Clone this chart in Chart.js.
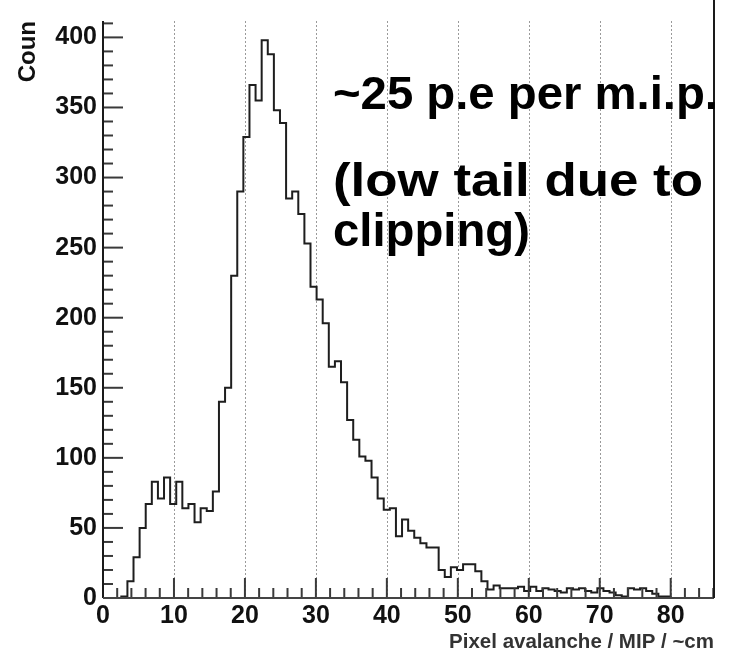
<!DOCTYPE html>
<html>
<head>
<meta charset="utf-8">
<script src="https://cdn.jsdelivr.net/npm/chart.js@4.4.0/dist/chart.umd.min.js"></script>
<style>
  html, body { margin: 0; padding: 0; background: #fff; }
  #wrap { width: 736px; height: 657px; }
</style>
</head>
<body>
<div id="wrap"><canvas id="hist" width="736" height="657"></canvas></div>
<script>
// 100 bins, 0.86 wide, starting at 0
const binStart = 0;
const binWidth = 0.86;
const counts = [
  0, 0, 0, 1, 12, 29, 50, 67, 83, 71,
  86, 67, 83, 64, 67, 54, 64, 62, 76, 140,
  150, 230, 290, 329, 366, 355, 398, 388, 348, 339,
  285, 290, 274, 253, 222, 213, 196, 165, 169, 154,
  127, 113, 101, 98, 86, 71, 63, 64, 44, 56,
  48, 43, 39, 36, 36, 20, 15, 22, 20, 24,
  24, 19, 12, 6, 9, 7, 7, 7, 8, 5,
  8, 5, 7, 6, 5, 4, 7, 6, 7, 5,
  4, 7, 5, 4, 2, 1, 7, 6, 7, 5,
  3, 1, 1, 0, 0, 0, 0, 0, 0, 0
];
const xTicks = [0, 10, 20, 30, 40, 50, 60, 70, 80];
const yTicks = [0, 50, 100, 150, 200, 250, 300, 350, 400];
const xTitle = 'Pixel avalanche / MIP / ~cm';
const yTitle = 'Coun';
const notes = ['~25 p.e per m.i.p.', '(low tail due to', 'clipping)'];

const FONT = '"Liberation Sans", Arial, Helvetica, sans-serif';

// points at left bin edges + one closing point at the last right edge
const points = counts.map((c, i) => ({ x: binStart + i * binWidth, y: c }));
points.push({ x: binStart + counts.length * binWidth, y: counts[counts.length - 1] });

const frame = {
  id: 'frame',
  beforeDatasetsDraw(chart) {
    const { ctx, chartArea: a, scales: { x } } = chart;
    ctx.save();
    ctx.strokeStyle = '#9a9a9a';
    ctx.lineWidth = 1;
    ctx.setLineDash([2, 2]);
    xTicks.filter(v => v > 0).forEach(v => {
      const px = Math.round(x.getPixelForValue(v)) + 0.5;
      ctx.beginPath(); ctx.moveTo(px, a.top); ctx.lineTo(px, a.bottom); ctx.stroke();
    });
    ctx.restore();
  },
  afterDatasetsDraw(chart) {
    const { ctx, chartArea: a, scales: { x, y } } = chart;
    ctx.save();
    ctx.strokeStyle = '#3a3a3a';
    ctx.lineWidth = 2;
    // x ticks, inside the frame
    for (let v = 0; v <= x.max; v += 2) {
      const px = x.getPixelForValue(v);
      const len = v % 10 === 0 ? 20 : 10;
      ctx.beginPath(); ctx.moveTo(px, a.bottom); ctx.lineTo(px, a.bottom - len); ctx.stroke();
    }
    // y ticks
    for (let v = 0; v <= y.max; v += 10) {
      const py = y.getPixelForValue(v);
      const len = v % 50 === 0 ? 20 : 10;
      ctx.beginPath(); ctx.moveTo(a.left, py); ctx.lineTo(a.left + len, py); ctx.stroke();
    }
    // frame: left, bottom, right
    ctx.strokeStyle = '#1a1a1a';
    ctx.beginPath(); ctx.moveTo(a.left, a.top); ctx.lineTo(a.left, a.bottom); ctx.stroke();
    ctx.strokeStyle = '#444';
    ctx.beginPath(); ctx.moveTo(a.left, a.bottom); ctx.lineTo(a.right, a.bottom); ctx.stroke();
    ctx.strokeStyle = '#1a1a1a';
    ctx.beginPath(); ctx.moveTo(a.right, 0); ctx.lineTo(a.right, a.bottom); ctx.stroke();
    ctx.restore();
  },
  afterDraw(chart) {
    const { ctx } = chart;
    const layout = [
      { left: 333, base: 109, width: 385 },
      { left: 333, base: 196, width: 370 },
      { left: 333, base: 246, width: 197 }
    ];
    ctx.save();
    ctx.fillStyle = '#000';
    ctx.font = 'bold 46px ' + FONT;
    ctx.textBaseline = 'alphabetic';
    notes.forEach((t, i) => {
      const L = layout[i];
      const w = ctx.measureText(t).width;
      ctx.save();
      ctx.translate(L.left, L.base);
      ctx.scale(L.width / w, 1);
      ctx.fillText(t, 0, 0);
      ctx.restore();
    });
    ctx.restore();
  }
};

new Chart(document.getElementById('hist'), {
  type: 'line',
  data: {
    datasets: [{
      data: points,
      stepped: 'before',
      borderColor: '#1e1e1e',
      borderWidth: 2,
      pointRadius: 0,
      fill: false
    }]
  },
  options: {
    responsive: false,
    animation: false,
    devicePixelRatio: 1,
    layout: { padding: { left: 0, top: 9, right: 22, bottom: 0 } },
    plugins: { legend: { display: false }, tooltip: { enabled: false } },
    scales: {
      x: {
        type: 'linear',
        min: 0,
        max: 86.1,
        grid: { display: false, drawTicks: false },
        border: { display: false },
        afterBuildTicks: s => { s.ticks = xTicks.map(v => ({ value: v })); },
        afterFit: s => { s.height = 59; },
        ticks: {
          padding: 3,
          color: '#111',
          font: { family: FONT, size: 25, weight: 'bold' },
          maxRotation: 0
        },
        title: {
          display: true,
          text: xTitle,
          align: 'end',
          color: '#333',
          font: { family: FONT, size: 20.5, weight: 'bold' },
          padding: { top: 0, bottom: 2 }
        }
      },
      y: {
        type: 'linear',
        min: 0,
        max: 411.7,
        grid: { display: false, drawTicks: false },
        border: { display: false },
        afterBuildTicks: s => { s.ticks = yTicks.map(v => ({ value: v })); },
        afterFit: s => { s.width = 103; },
        ticks: {
          padding: 6,
          color: '#111',
          font: { family: FONT, size: 25, weight: 'bold' }
        },
        title: {
          display: true,
          text: yTitle,
          align: 'end',
          color: '#111',
          font: { family: FONT, size: 24, weight: 'bold' },
          padding: { top: 14, bottom: 0 }
        }
      }
    }
  },
  plugins: [frame]
});
</script>
</body>
</html>
